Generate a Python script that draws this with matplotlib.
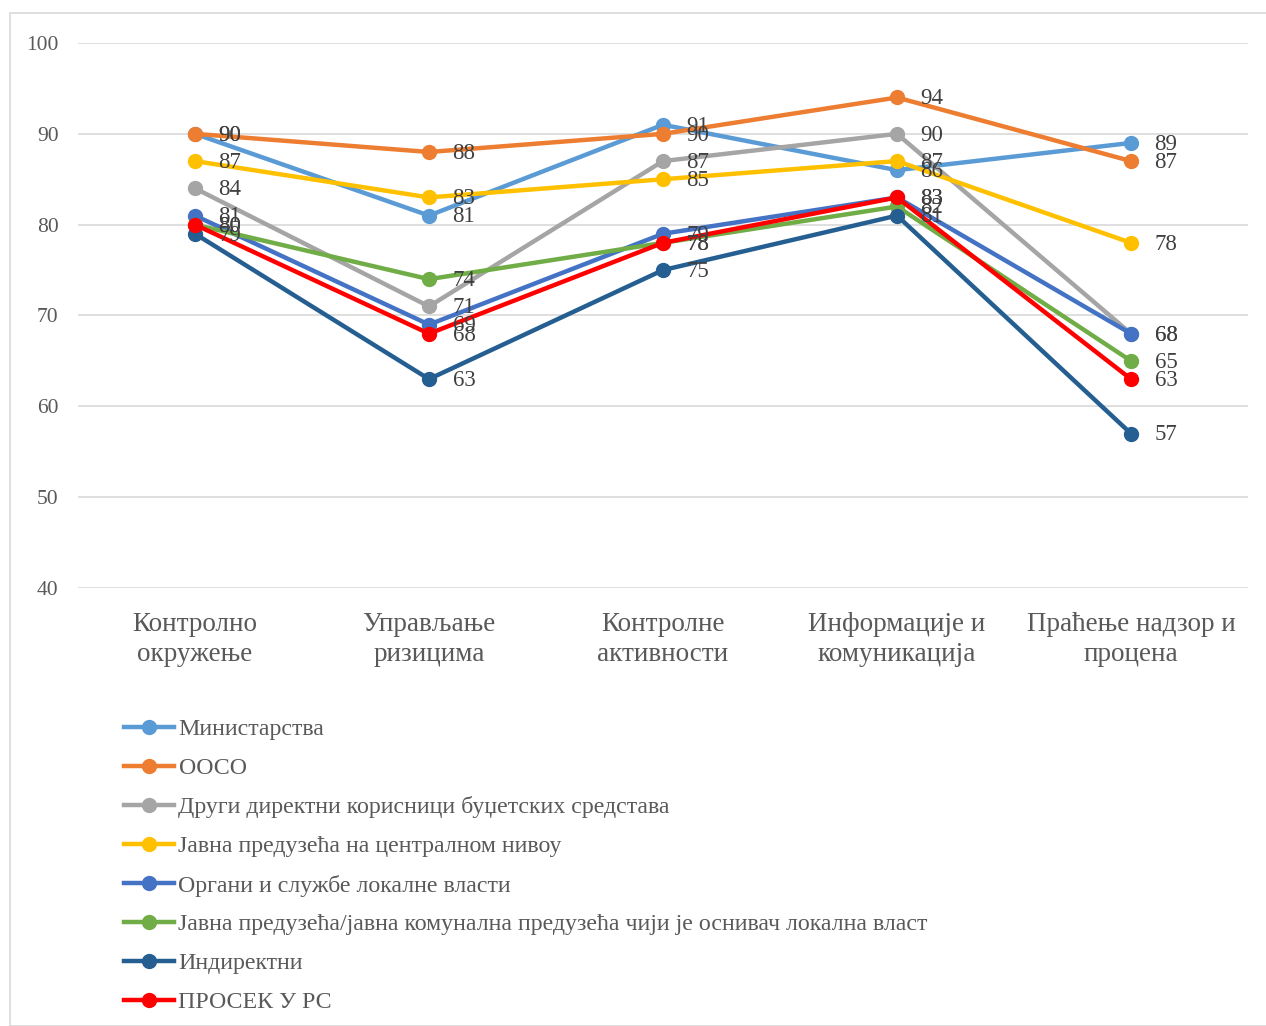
import matplotlib.pyplot as plt
from matplotlib.lines import Line2D
from matplotlib.patches import Rectangle

plt.rcParams['font.family'] = ['Liberation Serif', 'DejaVu Serif']

categories = ['Контролно\nокружење', 'Управљање\nризицима', 'Контролне\nактивности',
              'Информације и\nкомуникација', 'Праћење надзор и\nпроцена']

series_names = [
    'Министарства',
    'ООСО',
    'Други директни корисници буџетских средстава',
    'Јавна предузећа на централном нивоу',
    'Органи и службе локалне власти',
    'Јавна предузећа/јавна комунална предузећа чији је оснивач локална власт',
    'Индиректни',
    'ПРОСЕК У РС',
]

ministarstva = [90, 81, 91, 86, 89]
ooso = [90, 88, 90, 94, 87]
drugi = [84, 71, 87, 90, 68]
jp_centralni = [87, 83, 85, 87, 78]
organi = [81, 69, 79, 83, 68]
jp_lokalni = [80, 74, 78, 82, 65]
indirektni = [79, 63, 75, 81, 57]
prosek = [80, 68, 78, 83, 63]

series_values = [ministarstva, ooso, drugi, jp_centralni, organi, jp_lokalni, indirektni, prosek]
colors = ['#5B9BD5', '#ED7D31', '#A5A5A5', '#FFC000', '#4472C4', '#70AD47', '#255E91', '#FF0000']

W, H = 1266, 1026
fig = plt.figure(figsize=(W / 100, H / 100), dpi=100)

# outer chart border
fig.patches.append(Rectangle((10 / W, 0), 1.2, 1 - 13 / H, transform=fig.transFigure,
                             fill=False, edgecolor='#D9D9D9', linewidth=1.2))

ax = fig.add_axes([78 / W, 1 - 588 / H, (1248 - 78) / W, (588 - 43) / H])
x = list(range(len(categories)))

for name, vals, c in zip(series_names, series_values, colors):
    ax.plot(x, vals, color=c, linewidth=3.2, marker='o', markersize=10, label=name,
            solid_capstyle='round', zorder=3)
    for xi, v in zip(x, vals):
        ax.annotate(str(v), (xi, v), xytext=(17, -1), textcoords='offset points',
                    ha='left', va='center', fontsize=16.5, color='#404040', zorder=4)

ax.set_xlim(-0.5, len(categories) - 0.5)
ax.set_ylim(40, 100)
ax.set_yticks(range(40, 101, 10))
ax.yaxis.grid(True, color='#D9D9D9', linewidth=1.2)
ax.set_axisbelow(True)
for s in ax.spines.values():
    s.set_visible(False)
ax.tick_params(axis='y', length=0, pad=14, labelsize=15.5, labelcolor='#595959')
ax.set_xticks(x)
ax.set_xticklabels(categories, fontsize=19.5, color='#595959', linespacing=1.3)
ax.tick_params(axis='x', length=0, pad=17)

# legend below the plot
handles = [Line2D([], [], color=c, linewidth=3.2, marker='o', markersize=10) for c in colors]
fig.legend(handles, series_names, loc='upper left', bbox_to_anchor=(114 / W, 1 - 709 / H),
           frameon=False, fontsize=17.2, handlelength=2.1, handletextpad=0.2,
           labelspacing=0.72, labelcolor='#595959', borderaxespad=0)

fig.savefig('out.png', dpi=100)
